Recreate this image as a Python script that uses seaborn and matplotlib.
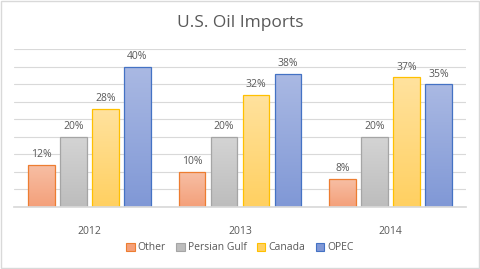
import matplotlib
matplotlib.use("Agg")
import matplotlib.pyplot as plt
import seaborn as sns
import pandas as pd
import numpy as np
from matplotlib.colors import LinearSegmentedColormap

years = ["2012", "2013", "2014"]
sources = ["Other", "Persian Gulf", "Canada", "OPEC"]
other = [12, 10, 8]
persian_gulf = [20, 20, 20]
canada = [28, 32, 37]
opec = [40, 38, 35]

values = {"Other": other, "Persian Gulf": persian_gulf, "Canada": canada, "OPEC": opec}
rows = []
for s in sources:
    for y, v in zip(years, values[s]):
        rows.append({"Year": y, "Source": s, "Value": v})
df = pd.DataFrame(rows)

fills = {"Other": ("#F7BFA5", "#F4A07A"), "Persian Gulf": ("#D4D4D4", "#BDBDBD"),
         "Canada": ("#FFE29E", "#FFD061"), "OPEC": ("#AAB9E3", "#8098D6")}
edges = {"Other": "#ED7D31", "Persian Gulf": "#A5A5A5", "Canada": "#FFC000", "OPEC": "#4472C4"}
solid = {s: fills[s][1] for s in sources}

sns.set_theme(style="white")
plt.rcParams['font.family'] = ['Open Sans', 'DejaVu Sans']
txt = "#595959"

fig = plt.figure(figsize=(4.8, 2.69), dpi=100)
ax = fig.add_axes([14/480, 1 - 206.7/269, 452/480, (206.7 - 49)/269])
sns.barplot(data=df, x="Year", y="Value", hue="Source", hue_order=sources,
            palette=solid, width=0.85, gap=0.16, ax=ax, legend=False, errorbar=None)

ax.set_ylim(0, 45)
ax.set_yticks(np.arange(0, 46, 5))
ax.set_xlim(-0.5, 2.5)
ax.yaxis.grid(True, color="#D9D9D9", linewidth=0.8)
ax.set_axisbelow(True)
for sp in ["left", "right", "top"]:
    ax.spines[sp].set_visible(False)
ax.spines["bottom"].set_color("#D9D9D9")
ax.tick_params(axis="y", left=False, labelleft=False)
ax.tick_params(axis="x", bottom=False, colors=txt, labelsize=7.5, pad=8)
ax.set_xlabel("")
ax.set_ylabel("")

# gradients + edges
for cont, s in zip(ax.containers, sources):
    cmap = LinearSegmentedColormap.from_list(s, [fills[s][1], fills[s][0]])
    for p in cont.patches:
        x0, y0 = p.get_x(), p.get_y()
        w, h = p.get_width(), p.get_height()
        p.set_edgecolor(edges[s])
        p.set_linewidth(0.9)
        grad = np.linspace(0, 1, 100).reshape(-1, 1)
        im = ax.imshow(grad, cmap=cmap, origin="lower", aspect="auto",
                       extent=[x0, x0 + w, y0, y0 + h], zorder=p.get_zorder() + 0.1)
        im.set_clip_path(p)
        p.set_facecolor("none")
        p.set_zorder(p.get_zorder() + 0.2)
    ax.bar_label(cont, labels=[f"{int(v)}%" for v in cont.datavalues], padding=3,
                 color=txt, fontsize=7.5)
ax.set_xlim(-0.5, 2.5)
ax.set_ylim(0, 45)

fig.text(0.5, 1 - 23/269, "U.S. Oil Imports", ha="center", va="center",
         fontsize=12.5, color=txt)

from matplotlib.patches import Patch
handles = [Patch(facecolor=fills[s][1], edgecolor=edges[s], linewidth=0.8) for s in sources]
fig.legend(handles, sources, loc="center", bbox_to_anchor=(0.5, 1 - 248/269), ncol=4,
           frameon=False, fontsize=7.5, labelcolor=txt, handlelength=0.8, handleheight=0.8,
           handletextpad=0.3, columnspacing=1.0)

fig.patches.append(plt.Rectangle((0.002, 0.003), 0.996, 0.994, transform=fig.transFigure,
                                 fill=False, edgecolor="#D9D9D9", linewidth=1))
fig.savefig("out.png", dpi=100)
